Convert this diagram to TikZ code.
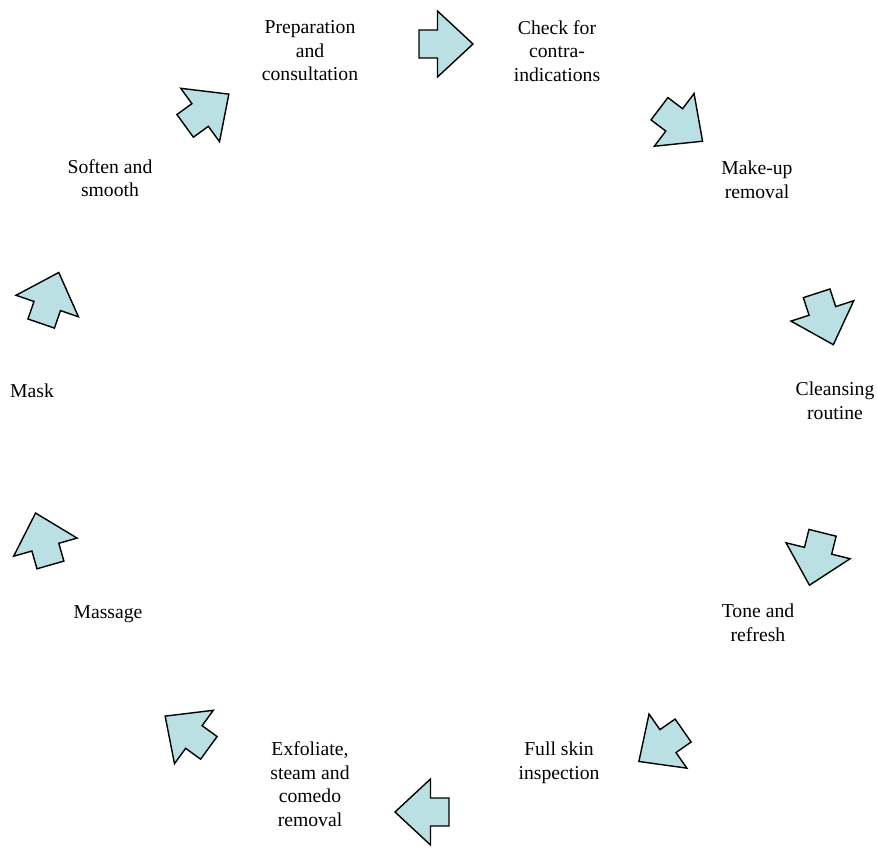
\documentclass[tikz,border=0pt]{standalone}
\usepackage{fontspec}
\setmainfont{Liberation Serif}
\usetikzlibrary{positioning}
\definecolor{arrowfill}{RGB}{186,224,228}

\begin{document}
\begin{tikzpicture}[x=0.02cm, y=-0.02cm,
    stage/.style={align=center, inner sep=0pt, font=\fontsize{11.2}{13.4}\selectfont},
    turn/.pic={\draw[line width=0.8pt, fill=arrowfill] (-27,14) -- (-8.5,14) -- (-8.5,33) -- (27,0) -- (-8.5,-33) -- (-8.5,-14) -- (-27,-14) -- cycle;}]
    \useasboundingbox (0,0) rectangle (877,848);

    % Stages of the routine
    \node (prep) [stage] at (310,51) {Preparation\\and\\consultation};
    \node (check) [stage] at (557,51) {Check for\\contra-\\indications};
    \node (makeup) [stage] at (757,180) {Make-up\\removal};
    \node (cleanse) [stage] at (835,401) {Cleansing\\routine};
    \node (tone) [stage] at (758,623) {Tone and\\refresh};
    \node (inspect) [stage] at (559,763) {Full skin\\inspection};
    \node (exfol) [stage] at (310,784) {Exfoliate,\\steam and\\comedo\\removal};
    \node (massage) [stage] at (108,614) {Massage};
    \node (mask) [stage] at (32,391) {Mask};
    \node (soften) [stage] at (110,178) {Soften and\\smooth};

    % Arrows between the stages
    \pic[rotate=0] (toCheck) at (446,44) {turn};
    \pic[rotate=-37] (toMakeup) at (681,125) {turn};
    \pic[rotate=-72] (toCleanse) at (825,319) {turn};
    \pic[rotate=-104] (toTone) at (816,559) {turn};
    \pic[rotate=-145] (toInspect) at (661,746) {turn};
    \pic[rotate=180] (toExfol) at (422,812) {turn};
    \pic[rotate=144] (toMassage) at (187,732) {turn};
    \pic[rotate=106] (toMask) at (43,539) {turn};
    \pic[rotate=71] (toSoften) at (50,298) {turn};
    \pic[rotate=36] (toPrep) at (207,110) {turn};
\end{tikzpicture}
\end{document}
